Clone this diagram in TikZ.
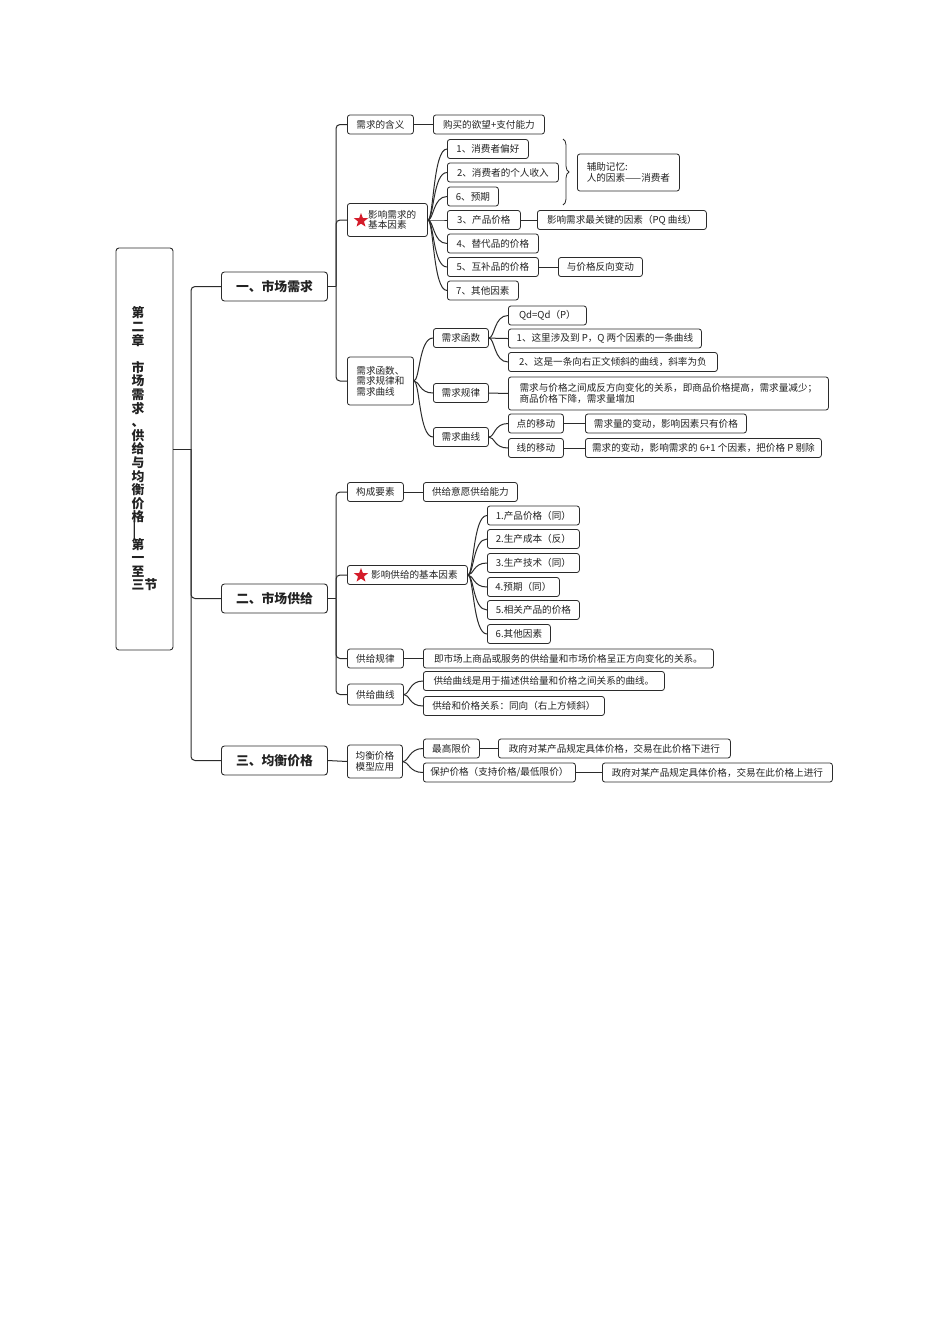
\documentclass[tikz,border=0pt]{standalone}
\usepackage{fontspec}
\setmainfont{Noto Sans CJK SC}
\usetikzlibrary{shapes.geometric,decorations.pathreplacing}
\definecolor{lc}{HTML}{2B2B2B}
\definecolor{tc}{HTML}{222222}
\definecolor{starred}{HTML}{D41C2A}
\newcommand\mmbox[6][19]{\node[box,minimum width=#5pt,minimum height=#1pt] (#2) at (#3,#4) {#6};}
\begin{document}
\begin{tikzpicture}[x=1pt,y=-1pt,
  box/.style={draw=lc,rounded corners=2.5pt,line width=0.8pt,inner sep=0pt,anchor=west,
    font=\fontsize{9.6}{10.6}\selectfont,text=tc,align=center},
  hbox/.style={draw=lc,rounded corners=3pt,line width=0.9pt,inner sep=0pt,anchor=west,
    minimum width=106pt,minimum height=29pt,font=\fontsize{12.8}{14}\selectfont\bfseries,text=tc},
  lbl/.style={inner sep=0pt,anchor=west,font=\fontsize{9.6}{10.6}\selectfont,text=tc,align=left},
  conn/.style={draw=lc,line width=1pt},
  redstar/.style={star,star points=5,star point ratio=2.4,fill=starred,draw=none,inner sep=0pt,minimum size=15pt}]
\useasboundingbox (0,0) rectangle (950,1344);

% root
\node[draw=lc,rounded corners=3pt,line width=0.9pt,minimum width=57pt,minimum height=402pt,inner sep=0pt,
  align=left,font=\fontsize{12.8}{13.6}\selectfont\bfseries,text=tc] (root) at (144.5,449)
  {第\\二\\章\\\mbox{}\\市\\场\\需\\求\\、\\供\\给\\与\\均\\衡\\价\\格\\\mbox{}\\第\\一\\至\\三节};
\node[rotate=-90,inner sep=0pt,font=\fontsize{11.5}{12}\selectfont\bfseries,text=tc] (rdash) at (133,530) {——};

% headers
\node[hbox] (h1) at (221,286.5) {一、市场需求};
\node[hbox] (h2) at (221,598.5) {二、市场供给};
\node[hbox] (h3) at (221,760.5) {三、均衡价格};

% demand
\mmbox{a1}{347}{124.5}{66}{需求的含义}
\mmbox{a1t}{433}{124.5}{111}{购买的欲望+支付能力}
\mmbox[33]{a2}{347}{220}{80}{}
\node[redstar] (a2s) at (361,220.5) {};
\node[lbl] (a2l) at (368,220) {影响需求的\\基本因素};
\mmbox{f1}{447}{149}{81}{1、消费者偏好}
\mmbox{f2}{447}{172.5}{111}{2、消费者的个人收入}
\mmbox{f6}{447}{196.5}{51}{6、预期}
\mmbox{f3}{447}{220}{73}{3、产品价格}
\mmbox{f4}{447}{243.5}{91}{4、替代品的价格}
\mmbox{f5}{447}{267}{91}{5、互补品的价格}
\mmbox{f7}{447}{290.5}{71}{7、其他因素}
\node[box,minimum width=102pt,minimum height=37pt,align=left] (mem) at (577,172.5) {辅助记忆:\\人的因素——消费者};
\mmbox{f3t}{537}{220}{169}{影响需求最关键的因素（PQ 曲线）}
\mmbox{f5t}{558}{267}{84}{与价格反向变动}
\draw[lc,line width=0.8pt,decorate,decoration={brace,amplitude=6pt}] (563,139) -- (563,205);

\node[box,minimum width=66pt,minimum height=48pt,align=left] (a3) at (347,381) {需求函数、\\需求规律和\\需求曲线};
\mmbox{b1}{433}{338}{55}{需求函数}
\mmbox{b2}{433}{393}{55}{需求规律}
\mmbox{b3}{433}{437}{55}{需求曲线}
\mmbox{c1}{508}{315.5}{78}{Qd=Qd（P）}
\mmbox{c2}{508}{338.5}{193}{1、这里涉及到 P，Q 两个因素的一条曲线}
\mmbox{c3}{508}{362}{209}{2、这是一条向右正文倾斜的曲线，斜率为负}
\node[box,minimum width=320pt,minimum height=33pt,align=left] (d1) at (508,393.5) {需求与价格之间成反方向变化的关系，即商品价格提高，需求量减少；\\商品价格下降，需求量增加};
\mmbox{e1}{508}{423.5}{55}{点的移动}
\mmbox{e2}{508}{448}{55}{线的移动}
\mmbox{e1t}{585}{423.5}{161}{需求量的变动，影响因素只有价格}
\mmbox{e2t}{585}{448}{236}{需求的变动，影响需求的 6+1 个因素，把价格 P 剔除}

% supply
\mmbox{s1}{347}{492}{56}{构成要素}
\mmbox{s1t}{423}{492}{94}{供给意愿供给能力}
\mmbox{s2}{347}{575}{120}{}
\node[redstar] (s2s) at (361,575.5) {};
\node[lbl] (s2l) at (371,575) {影响供给的基本因素};
\mmbox{g1}{487}{515.5}{92}{1.产品价格（同）}
\mmbox{g2}{487}{539}{92}{2.生产成本（反）}
\mmbox{g3}{487}{563}{92}{3.生产技术（同）}
\mmbox{g4}{487}{587}{72}{4.预期（同）}
\mmbox{g5}{487}{610}{92}{5.相关产品的价格}
\mmbox{g6}{487}{634}{63}{6.其他因素}
\mmbox{s3}{347}{658.5}{56}{供给规律}
\mmbox{s3t}{423}{658.5}{290}{即市场上商品或服务的供给量和市场价格呈正方向变化的关系。}
\mmbox[21]{s4}{347}{694.5}{56}{供给曲线}
\mmbox{s4a}{423}{681}{241}{供给曲线是用于描述供给量和价格之间关系的曲线。}
\mmbox{s4b}{423}{706}{181}{供给和价格关系：同向（右上方倾斜）}

% equilibrium
\node[box,minimum width=55pt,minimum height=33pt] (q1) at (347,761.5) {均衡价格\\模型应用};
\mmbox{q2}{423}{748.5}{56}{最高限价}
\mmbox{q2t}{498}{748.5}{232}{政府对某产品规定具体价格，交易在此价格下进行}
\mmbox{q3}{423}{772.5}{152}{保护价格（支持价格/最低限价）}
\mmbox{q3t}{602}{772.5}{230}{政府对某产品规定具体价格，交易在此价格上进行}

% trunk
\draw[conn] (root.east) -- (191,449) coordinate (tj);
\draw[conn,rounded corners=4pt] (tj) |- (h1.west);
\draw[conn,rounded corners=4pt] (tj) |- (h2.west);
\draw[conn,rounded corners=4pt] (tj) |- (h3.west);

% spines
\draw[conn] (h1.east) -- (336,286.5) coordinate (j1);
\foreach \n in {a1,a2,a3} \draw[conn,rounded corners=4pt] (j1) |- (\n.west);
\draw[conn] (h2.east) -- (336,598.5) coordinate (j2);
\foreach \n in {s1,s2,s3,s4} \draw[conn,rounded corners=4pt] (j2) |- (\n.west);
\draw[conn] (h3.east) -- (q1.west);

% curved fans
\foreach \p/\c in {a2/f1,a2/f2,a2/f6,a2/f3,a2/f4,a2/f5,a2/f7,
                   a3/b1,a3/b2,a3/b3,b1/c1,b1/c2,b1/c3,b3/e1,b3/e2,
                   s2/g1,s2/g2,s2/g3,s2/g4,s2/g5,s2/g6,s4/s4a,s4/s4b,q1/q2,q1/q3}
  \draw[conn] (\p.east) .. controls +(6,0) and +(-14,0) .. (\c.west);

% straight links
\foreach \p/\c in {a1/a1t,f3/f3t,f5/f5t,b2/d1,e1/e1t,e2/e2t,s1/s1t,s3/s3t,q2/q2t,q3/q3t}
  \draw[conn] (\p.east) -- (\c.west);
\end{tikzpicture}
\end{document}
